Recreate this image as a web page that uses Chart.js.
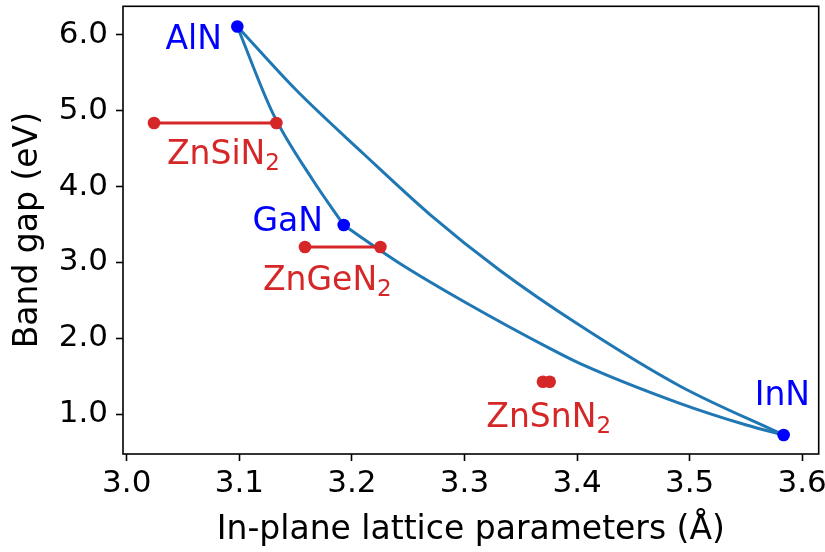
<!DOCTYPE html>
<html>
<head>
<meta charset="utf-8">
<script src="https://cdn.jsdelivr.net/npm/chart.js@4/dist/chart.umd.min.js"></script>
<style>
  body { margin: 0; background: #fff; }
  canvas { display: block; }
</style>
</head>
<body>
<canvas id="chart" width="825" height="552"></canvas>
<script>
const xTicks = [3.0, 3.1, 3.2, 3.3, 3.4, 3.5, 3.6];
const yTicks = [1, 2, 3, 4, 5, 6];

// binary nitrides (blue dots): AlN, GaN, InN
const binaryX = [3.0982, 3.1927, 3.5835];
const binaryY = [6.112, 3.494, 0.723];

// ZnXN2 ranges (red pairs)
const znSiX = [3.0242, 3.1329];
const znSiY = [4.838, 4.838];
const znGeX = [3.1583, 3.2253];
const znGeY = [3.204, 3.204];
const znSnX = [3.3697, 3.3757];
const znSnY = [1.426, 1.426];

// AlN -> InN curve
const alInX = [3.0982, 3.1507, 3.2098, 3.2691, 3.3313, 3.4023, 3.4912, 3.5835];
const alInY = [6.112, 5.270, 4.440, 3.635, 2.897, 2.170, 1.370, 0.723];

// AlN -> GaN curve
const alGaX = [3.0982, 3.1299, 3.1654, 3.1927];
const alGaY = [6.112, 4.962, 4.083, 3.494];

// GaN -> InN curve
const gaInX = [3.1927, 3.2098, 3.2426, 3.3017, 3.3757, 3.4023, 3.4912, 3.5504, 3.5835];
const gaInY = [3.494, 3.315, 2.986, 2.465, 1.866, 1.668, 1.141, 0.855, 0.723];

const BLUE = `#0000ff`;
const RED = `#d62728`;
const LINE = `#1f77b4`;
const FONT = `'DejaVu Sans', sans-serif`;
const SIZE = 33;
const TICK_SIZE = 31;

const toPoints = (xs, ys) => xs.map((x, i) => ({x, y: ys[i]}));

// text labels: [main, subscript, x, y, color]
const labels = [
  [`AlN`, ``, 3.0344, 5.809, BLUE],
  [`GaN`, ``, 3.1116, 3.415, BLUE],
  [`InN`, ``, 3.5578, 1.119, BLUE],
  [`ZnSiN`, `2`, 3.0357, 4.303, RED],
  [`ZnGeN`, `2`, 3.1210, 2.634, RED],
  [`ZnSnN`, `2`, 3.3194, 0.825, RED]
];

const labelPlugin = {
  id: `labels`,
  afterDatasetsDraw(chart) {
    const {ctx, scales: {x, y}} = chart;
    ctx.save();
    ctx.textAlign = `left`;
    ctx.textBaseline = `alphabetic`;
    labels.forEach(([text, sub, lx, ly, color]) => {
      const px = x.getPixelForValue(lx);
      const py = y.getPixelForValue(ly);
      ctx.fillStyle = color;
      ctx.font = `${SIZE}px ${FONT}`;
      ctx.fillText(text, px, py);
      if (sub) {
        const w = ctx.measureText(text).width;
        ctx.font = `23px ${FONT}`;
        ctx.fillText(sub, px + w, py + 6);
      }
    });
    ctx.restore();
  }
};

const framePlugin = {
  id: `frame`,
  afterDraw(chart) {
    const {ctx, chartArea: {left, top, right, bottom}} = chart;
    ctx.save();
    ctx.strokeStyle = `#000`;
    ctx.lineWidth = 1.6;
    ctx.strokeRect(left, top, right - left, bottom - top);
    ctx.restore();
  }
};

const pairDataset = (xs, ys) => ({
  data: toPoints(xs, ys),
  showLine: true,
  borderColor: RED,
  backgroundColor: RED,
  borderWidth: 3,
  pointRadius: 6.3,
  pointBorderWidth: 0
});

const curveDataset = (xs, ys) => ({
  data: toPoints(xs, ys),
  showLine: true,
  borderColor: LINE,
  borderWidth: 3,
  pointRadius: 0,
  cubicInterpolationMode: `monotone`
});

new Chart(document.getElementById(`chart`), {
  type: `scatter`,
  data: {
    datasets: [
      {
        data: toPoints(binaryX, binaryY),
        backgroundColor: BLUE,
        borderColor: BLUE,
        pointRadius: 6.3,
        pointBorderWidth: 0
      },
      pairDataset(znSiX, znSiY),
      pairDataset(znGeX, znGeY),
      pairDataset(znSnX, znSnY),
      curveDataset(alInX, alInY),
      curveDataset(alGaX, alGaY),
      curveDataset(gaInX, gaInY)
    ]
  },
  options: {
    responsive: false,
    animation: false,
    layout: {padding: {top: 6, right: 6, left: 0, bottom: 0}},
    plugins: {legend: {display: false}, tooltip: {enabled: false}},
    scales: {
      x: {
        type: `linear`,
        min: 2.99665,
        max: 3.61466,
        afterBuildTicks: (scale) => {
          scale.ticks = xTicks.map((value) => ({value}));
        },
        afterFit: (scale) => {
          scale.height = 98;
          scale.paddingLeft = 0;
          scale.paddingRight = 0;
        },
        border: {display: false},
        grid: {drawOnChartArea: false, tickLength: 7, tickWidth: 1.6, tickColor: `#000`},
        ticks: {
          color: `#000`,
          padding: 4,
          maxRotation: 0,
          font: {family: FONT, size: TICK_SIZE},
          callback: (v) => Number(v).toFixed(1)
        },
        title: {
          display: true,
          text: `In-plane lattice parameters (Å)`,
          color: `#000`,
          font: {family: FONT, size: SIZE},
          padding: {top: 0, bottom: 2}
        }
      },
      y: {
        type: `linear`,
        min: 0.473,
        max: 6.378,
        afterBuildTicks: (scale) => {
          scale.ticks = yTicks.map((value) => ({value}));
        },
        afterFit: (scale) => {
          scale.width = 123;
          scale.paddingTop = 0;
          scale.paddingBottom = 0;
        },
        border: {display: false},
        grid: {drawOnChartArea: false, tickLength: 7, tickWidth: 1.6, tickColor: `#000`},
        ticks: {
          color: `#000`,
          padding: 8,
          font: {family: FONT, size: TICK_SIZE},
          callback: (v) => Number(v).toFixed(1)
        },
        title: {
          display: true,
          text: `Band gap (eV)`,
          color: `#000`,
          font: {family: FONT, size: SIZE},
          padding: {top: 9, bottom: 0}
        }
      }
    }
  },
  plugins: [labelPlugin, framePlugin]
});
</script>
</body>
</html>
